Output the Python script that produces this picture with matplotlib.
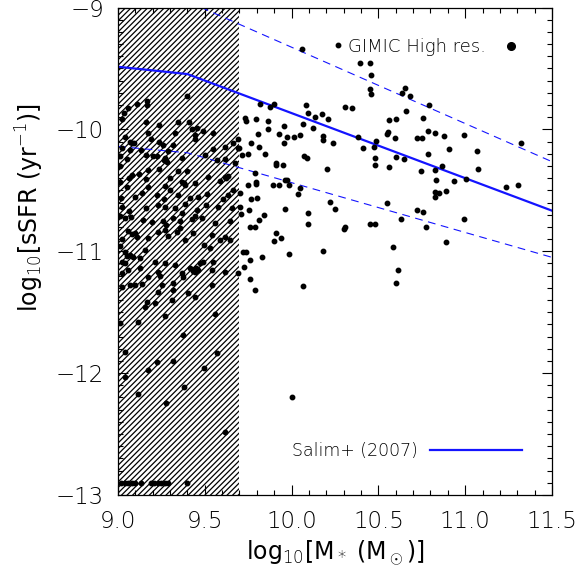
import matplotlib
matplotlib.use("Agg")
import matplotlib.pyplot as plt
from matplotlib.lines import Line2D
from matplotlib.ticker import MultipleLocator

# --- Datos ---
# galaxias resueltas (derecha de la zona rayada)
logm_res = [
    10.058, 10.265, 10.394, 10.454, 10.455, 10.450, 10.455, 10.634, 10.655, 10.682,
    10.657, 10.793, 10.308, 10.346, 9.818, 9.874, 9.897, 10.081, 10.095, 10.135,
    10.173, 10.208, 9.732, 9.739, 9.793, 9.862, 9.866, 9.954, 10.064, 10.123,
    9.808, 9.926, 9.972, 10.012, 10.047, 10.183, 10.183, 10.239, 9.954, 9.768,
    9.814, 9.693, 9.712, 9.751, 9.689, 9.849, 9.908, 9.908, 9.949, 10.071,
    10.089, 10.202, 10.381, 10.413, 10.473, 10.484, 10.482, 10.482, 10.559, 10.603,
    10.550, 10.553, 10.598, 10.603, 10.561, 10.646, 10.720, 10.749, 10.755, 10.788,
    10.824, 10.880, 10.909, 10.784, 10.745, 10.826, 10.864, 10.832, 10.826, 10.828,
    10.849, 10.887, 10.937, 10.991, 11.003, 11.068, 11.074, 11.233, 11.304, 11.320,
    10.991, 10.891, 10.720, 10.757, 10.774, 10.630, 10.548, 10.450, 10.480, 10.584,
    10.615, 10.603, 10.308, 10.300, 10.223, 10.252, 10.179, 10.068, 10.096, 10.096,
    10.035, 10.050, 9.985, 9.962, 9.972, 9.926, 9.895, 9.962, 9.912, 9.897,
    9.939, 9.985, 9.839, 9.812, 9.789, 9.760, 9.757, 9.766, 9.803, 9.795,
    9.797, 9.789, 9.747, 9.703, 9.709, 9.701, 9.735, 9.762, 9.728, 9.762,
    9.787, 9.828, 9.689, 10.004, 9.722,
]
ssfr_res = [
    -9.344, -9.305, -9.453, -9.453, -9.554, -9.669, -9.713, -9.705, -9.661, -9.726,
    -9.849, -9.800, -9.814, -9.825, -9.789, -9.819, -9.789, -9.803, -9.863, -9.901,
    -9.874, -9.918, -9.907, -9.934, -9.912, -9.931, -10.000, -9.972, -9.959, -9.986,
    -10.041, -10.041, -10.060, -10.060, -10.049, -10.055, -10.087, -10.109, -10.109, -10.112,
    -10.142, -10.150, -10.208, -10.205, -10.079, -10.205, -10.273, -10.290, -10.295, -10.221,
    -10.235, -10.322, -10.060, -10.150, -10.142, -10.096, -10.235, -10.292, -9.921, -9.915,
    -10.038, -10.019, -10.071, -10.230, -10.306, -10.240, -10.068, -10.074, -9.904, -10.014,
    -10.033, -10.055, -10.158, -10.205, -10.341, -10.334, -10.300, -10.413, -10.514, -10.552,
    -10.520, -10.503, -10.426, -10.044, -10.407, -10.175, -10.328, -10.475, -10.459, -10.109,
    -10.733, -10.927, -10.664, -10.681, -10.798, -10.738, -10.607, -10.776, -10.776, -10.968,
    -11.154, -11.260, -10.798, -10.815, -10.593, -10.653, -11.001, -11.285, -10.689, -10.774,
    -10.533, -10.478, -10.459, -10.418, -10.418, -10.457, -10.457, -10.656, -10.848, -10.913,
    -10.894, -11.022, -10.703, -10.744, -10.798, -10.798, -10.661, -10.574, -10.566, -10.432,
    -10.448, -10.355, -10.459, -10.525, -10.697, -10.634, -11.003, -11.072, -11.126, -11.225,
    -11.321, -11.044, -11.176, -12.193, -11.008,
]

# galaxias en la zona no resuelta (rayada)
logm_unres = [
    9.399, 9.169, 9.169, 9.111, 9.059, 9.036, 9.021, 9.159, 9.238, 9.344,
    9.411, 9.424, 9.457, 9.488, 9.444, 9.444, 9.545, 9.171, 9.040, 9.079,
    9.094, 9.238, 9.261, 9.319, 9.664, 9.616, 9.699, 9.549, 9.021, 9.069,
    9.131, 9.054, 9.011, 9.159, 9.203, 9.223, 9.271, 9.280, 9.367, 9.568,
    9.616, 9.674, 9.236, 9.175, 9.347, 9.395, 9.121, 9.063, 9.079, 9.159,
    9.011, 9.299, 9.367, 9.386, 9.520, 9.616, 9.632, 9.588, 9.054, 9.175,
    9.271, 9.444, 9.664, 9.098, 9.223, 9.267, 9.299, 9.344, 9.415, 9.463,
    9.511, 9.603, 9.636, 9.021, 9.063, 9.159, 9.232, 9.271, 9.328, 9.386,
    9.453, 9.505, 9.578, 9.655, 9.011, 9.367, 9.444,
    9.040, 9.075, 9.146, 9.198, 9.261, 9.275, 9.319, 9.357, 9.424, 9.486,
    9.559, 9.645, 9.060, 9.098, 9.108, 9.021, 9.175, 9.232, 9.271, 9.290,
    9.338, 9.357, 9.434, 9.386, 9.540, 9.616, 9.645, 9.497, 9.530, 9.155,
    9.040, 9.069, 9.088, 9.127, 9.021, 9.040, 9.213, 9.271, 9.328, 9.415,
    9.434, 9.444, 9.472, 9.492, 9.549, 9.540, 9.616, 9.021, 9.059, 9.127,
    9.175, 9.232, 9.242, 9.367, 9.376, 9.021, 9.069, 9.098, 9.136, 9.251,
    9.319, 9.540, 9.232, 9.319, 9.405, 9.444, 9.165, 9.155, 9.213, 9.309,
    9.011, 9.271, 9.117, 9.559, 9.376, 9.040, 9.568,
    9.040, 9.113, 9.171, 9.223, 9.315, 9.276, 9.382, 9.497, 9.616,
    9.430, 9.452, 9.083, 9.050, 9.462, 9.072, 9.268, 9.381, 9.624, 9.012,
    9.015, 9.010, 9.290, 9.190, 9.500, 9.140, 9.590, 9.330,
]
ssfr_unres = [
    -9.726, -9.764, -9.800, -9.792, -9.827, -9.868, -9.915, -9.937, -9.964, -9.942,
    -9.937, -9.999, -9.991, -10.013, -10.046, -10.081, -10.032, -10.027, -10.065, -10.109,
    -10.109, -10.101, -10.128, -10.128, -10.109, -10.142, -10.155, -10.163, -10.155, -10.169,
    -10.169, -10.243, -10.218, -10.210, -10.218, -10.218, -10.237, -10.265, -10.237, -10.251,
    -10.243, -10.278, -10.328, -10.333, -10.338, -10.338, -10.369, -10.401, -10.374, -10.407,
    -10.429, -10.401, -10.429, -10.456, -10.388, -10.388, -10.379, -10.423, -10.470, -10.470,
    -10.464, -10.442, -10.497, -10.557, -10.538, -10.568, -10.497, -10.538, -10.566, -10.552,
    -10.533, -10.571, -10.538, -10.639, -10.667, -10.647, -10.620, -10.634, -10.642, -10.612,
    -10.661, -10.620, -10.634, -10.647, -10.710, -10.688, -10.710,
    -10.729, -10.716, -10.743, -10.757, -10.751, -10.784, -10.729, -10.751, -10.735, -10.724,
    -10.770, -10.751, -10.833, -10.852, -10.880, -10.899, -10.893, -10.839, -10.825, -10.872,
    -10.839, -10.811, -10.852, -10.907, -10.866, -10.880, -10.907, -10.948, -10.975, -10.989,
    -11.003, -11.030, -11.044, -11.057, -11.085, -11.099, -11.085, -11.099, -11.112, -11.140,
    -11.153, -11.172, -11.099, -11.085, -11.085, -11.153, -11.167, -11.181, -11.153, -11.140,
    -11.208, -11.167, -11.202, -11.181, -11.208, -11.290, -11.276, -11.276, -11.271, -11.276,
    -11.263, -11.276, -11.331, -11.317, -11.345, -11.372, -11.418, -11.454, -11.427, -11.399,
    -11.591, -11.531, -11.577, -11.514, -11.686, -11.823, -11.837,
    -12.034, -12.174, -11.974, -11.911, -11.903, -12.242, -12.114, -11.958, -12.483,
    -11.160, -11.140, -10.860, -11.040, -11.150, -10.100, -10.250, -10.440, -10.400, -10.300,
    -10.560, -10.960, -10.180, -10.080, -10.210, -10.520, -10.910, -10.030,
]

# galaxias sin formacion estelar (valor minimo)
logm_floor = [9.02, 9.04, 9.06, 9.08, 9.10, 9.13, 9.19, 9.21, 9.23, 9.25, 9.27, 9.29, 9.40]
ssfr_floor = -12.9

# Salim+ (2007) y su dispersion
salim_logm = [9.0, 9.4, 11.5]
salim_ssfr = [-9.486, -9.546, -10.667]
salim_upper = [-8.83, -8.95, -10.265]
salim_lower = [-10.14, -10.192, -11.05]

resolution_limit = 9.7

# --- Figura ---
plt.rcParams["font.family"] = "DejaVu Sans"
plt.rcParams["font.weight"] = "light"
plt.rcParams["mathtext.fontset"] = "custom"
plt.rcParams["mathtext.rm"] = "DejaVu Sans:weight=ultralight"
plt.rcParams["mathtext.it"] = "DejaVu Sans:style=italic:weight=ultralight"
plt.rcParams["mathtext.default"] = "rm"
plt.rcParams["hatch.linewidth"] = 0.9

fig = plt.figure(figsize=(5.8, 5.79), dpi=100)
ax = fig.add_axes([0.2034, 0.1451, 0.7483, 0.8419])

ax.axvspan(9.0, resolution_limit, facecolor="none", edgecolor="black",
           linewidth=0, hatch="//////", zorder=1)

ax.plot(salim_logm, salim_ssfr, color="#1414ff", lw=1.6, zorder=2)
ax.plot(salim_logm, salim_upper, color="#1414ff", lw=0.8, dashes=(7, 5), zorder=2)
ax.plot(salim_logm, salim_lower, color="#1414ff", lw=0.8, dashes=(7, 5), zorder=2)

pt_kw = dict(marker="o", ms=3.2, color="black", linestyle="none", zorder=3)
ax.plot(logm_unres, ssfr_unres, **pt_kw)
ax.plot(logm_res, ssfr_res, **pt_kw)
ax.plot(logm_floor, [ssfr_floor] * len(logm_floor), **pt_kw)

ax.set_xlim(9.0, 11.5)
ax.set_ylim(-13, -9)
ax.xaxis.set_major_locator(MultipleLocator(0.5))
ax.xaxis.set_minor_locator(MultipleLocator(0.1))
ax.yaxis.set_major_locator(MultipleLocator(1))
ax.yaxis.set_minor_locator(MultipleLocator(0.1))
ax.xaxis.set_major_formatter(plt.FormatStrFormatter("%.1f"))
ax.yaxis.set_major_formatter(plt.FuncFormatter(lambda v, p: f"\u2212{abs(v):.0f}"))
ax.tick_params(which="both", direction="in", top=True, right=True, width=0.8)
ax.tick_params(which="major", length=7, labelsize=16.5)
ax.tick_params(which="minor", length=3.5)
ax.tick_params(axis="x", which="major", pad=11)
ax.tick_params(axis="y", which="major", pad=10)
for sp in ax.spines.values():
    sp.set_linewidth(0.9)

ax.set_xlabel(r"log$_{10}$[M$_*$ (M$_\odot$)]", fontsize=17)
ax.set_ylabel(r"log$_{10}$[sSFR (yr$^{-1}$)]", fontsize=17)
ax.yaxis.set_label_coords(-0.165, 0.59)

h1 = Line2D([], [], marker="o", ms=5.5, color="black", linestyle="none")
leg1 = ax.legend([h1], ["GIMIC High res."], loc="upper right", markerfirst=False,
                 frameon=False, fontsize=13, handletextpad=0.4,
                 bbox_to_anchor=(0.985, 0.97))
ax.add_artist(leg1)
h2 = Line2D([], [], color="#1414ff", lw=1.6)
ax.legend([h2], ["Salim+ (2007)"], loc="lower right", markerfirst=False,
          frameon=False, fontsize=12.5, handlelength=5.3, handletextpad=0.7,
          bbox_to_anchor=(0.966, 0.04))

fig.savefig("out.png", dpi=100)
